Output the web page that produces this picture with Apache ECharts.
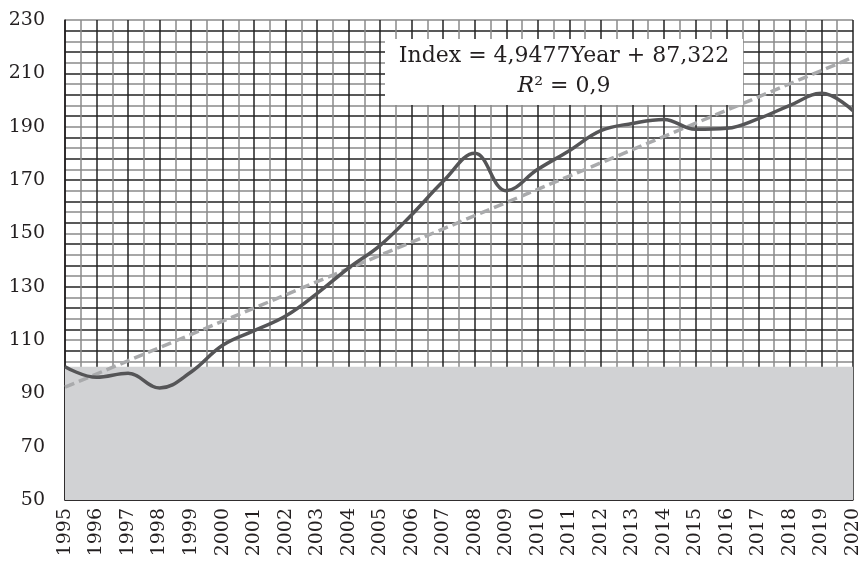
<!DOCTYPE html>
<html>
<head>
<meta charset="utf-8">
<script src="https://cdn.jsdelivr.net/npm/echarts@6/dist/echarts.min.js"></script>
<style>
  html, body { margin: 0; padding: 0; background: #fff; }
  #chart { width: 863px; height: 564px; }
</style>
</head>
<body>
<div id="chart"></div>
<script>
// values
const years = [1995, 1996, 1997, 1998, 1999, 2000, 2001, 2002, 2003, 2004, 2005, 2006, 2007,
  2008, 2009, 2010, 2011, 2012, 2013, 2014, 2015, 2016, 2017, 2018, 2019, 2020];
const index = [100, 96, 97.5, 92, 98, 108, 113.5, 119, 127.5, 137, 145.5, 157, 169.5,
  180, 166, 174, 181, 188.5, 191.2, 192.7, 189, 189.4, 193, 198, 202.5, 196];
// linear trend endpoints (1995, 2020)
const trendYears = [1995, 2020];
const trendValues = [92.3, 216];
const baseline = 100;
const yMin = 50;
const eqText = 'Index = 4,9477Year + 87,322';

const font = 'DejaVu Serif';
const ink = '#231f20';
const gridColors = ['#222', '#8a8a8a'];

const chart = echarts.init(document.getElementById('chart'));

chart.setOption({
  animation: false,
  textStyle: { fontFamily: font, color: ink },
  grid: { left: 65, right: 10, top: 20, bottom: 64 },
  xAxis: {
    type: 'value',
    min: 1995,
    max: 2020,
    interval: 1,
    axisLine: { onZero: false, lineStyle: { color: ink, width: 1.5 } },
    axisTick: { show: false },
    minorTick: { show: true, splitNumber: 2, length: 0 },
    axisLabel: {
      rotate: 90,
      fontSize: 19,
      fontFamily: font,
      color: ink,
      formatter: v => String(v)
    },
    splitLine: { lineStyle: { color: '#222', width: 1.5 } },
    minorSplitLine: { show: true, lineStyle: { color: '#8a8a8a', width: 1.5 } }
  },
  yAxis: {
    type: 'value',
    min: yMin,
    max: 230,
    interval: 4,
    axisLine: { show: true, lineStyle: { color: ink, width: 1.5 } },
    axisTick: { show: false },
    axisLabel: {
      margin: 20,
      color: ink,
      fontFamily: font,
      fontSize: 19,
      formatter: v => ((v - yMin) % 20 === 0 ? String(v) : '')
    },
    splitLine: { show: true, lineStyle: { color: gridColors, width: 1.5 } }
  },
  series: [
    {
      name: 'below100',
      type: 'line',
      z: 1,
      data: [],
      markArea: {
        silent: true,
        itemStyle: { color: '#d1d2d4', opacity: 1 },
        data: [[{ yAxis: yMin }, { yAxis: baseline }]]
      }
    },
    {
      name: 'trend',
      type: 'line',
      z: 3,
      symbol: 'none',
      data: trendYears.map((y, i) => [y, trendValues[i]]),
      lineStyle: { color: '#a9aaac', width: 3.5, type: [10, 5] }
    },
    {
      name: 'index',
      type: 'line',
      z: 4,
      symbol: 'none',
      smooth: 0.4,
      data: years.map((y, i) => [y, index[i]]),
      lineStyle: { color: '#555557', width: 3.5 }
    }
  ],
  graphic: [
    {
      type: 'rect',
      z: 100,
      shape: { x: 385, y: 39, width: 358, height: 66 },
      style: { fill: '#fff' }
    },
    {
      type: 'text',
      z: 101,
      x: 564,
      y: 56,
      style: {
        text: eqText,
        fill: ink,
        font: '22px "' + font + '"',
        align: 'center',
        verticalAlign: 'middle'
      }
    },
    {
      type: 'text',
      z: 101,
      x: 564,
      y: 86,
      style: {
        text: '{i|R}² = 0,9',
        fill: ink,
        font: '22px "' + font + '"',
        align: 'center',
        verticalAlign: 'middle',
        rich: {
          i: { fontStyle: 'italic', fontFamily: font, fontSize: 22, fill: ink }
        }
      }
    }
  ]
});
</script>
</body>
</html>
